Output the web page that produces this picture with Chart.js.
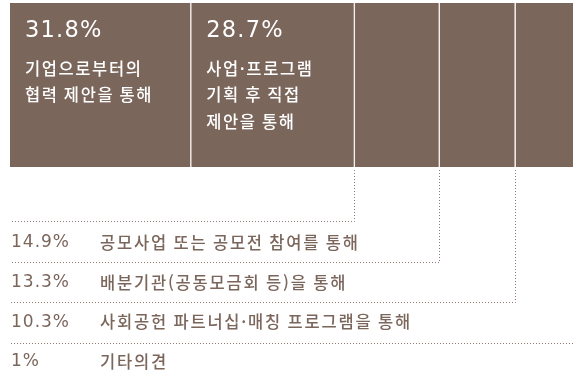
<!DOCTYPE html>
<html lang="ko">
<head>
  <meta charset="UTF-8">
  <title>협력 경로</title>
  <script src="https://cdn.jsdelivr.net/npm/chart.js"></script>
  <style>
    html, body { margin: 0; padding: 0; background: #fff; overflow: hidden; }
    .wrap { width: 583px; height: 379px; }
  </style>
</head>
<body>
  <div class="wrap"><canvas id="routeChart"></canvas></div>
  <script>
    // share of each route (%)
    const shares = [31.8, 28.7, 14.9, 13.3, 10.3, 1];
    const routeLabels = [
      ['기업으로부터의', '협력 제안을 통해'],
      ['사업·프로그램', '기획 후 직접', '제안을 통해'],
      ['공모사업 또는 공모전 참여를 통해'],
      ['배분기관(공동모금회 등)을 통해'],
      ['사회공헌 파트너십·매칭 프로그램을 통해'],
      ['기타의견']
    ];
    const insideCount = 2; // first two routes are labelled inside the bar

    const brown = '#7b665c';
    const fontKr = '"Noto Sans CJK KR", "Noto Sans", sans-serif';
    const fontNum = '"DejaVu Sans", sans-serif';

    const datasets = shares.map((v, i) => ({
      label: routeLabels[i].join(' '),
      data: [v],
      backgroundColor: brown,
      borderColor: '#f2eeec',
      borderWidth: { left: 0, top: 0, bottom: 0, right: 1.5 },
      borderSkipped: false,
      barPercentage: 1,
      categoryPercentage: 1
    }));

    // labels inside the bar and the dotted leader rows below it
    const labelPlugin = {
      id: 'routeLabels',
      afterDatasetsDraw(chart) {
        const ctx = chart.ctx;
        const xs = chart.scales.x;
        const area = chart.chartArea;
        ctx.save();

        let start = 0;
        const starts = shares.map(v => { const s = start; start += v; return s; });

        // inside labels
        ctx.textBaseline = 'middle';
        ctx.textAlign = 'left';
        for (let i = 0; i < insideCount; i++) {
          const x = xs.getPixelForValue(starts[i]) + 15;
          ctx.fillStyle = '#ffffff';
          ctx.font = '22.5px ' + fontNum;
          ctx.letterSpacing = '1.2px';
          ctx.fillText(shares[i] + '%', x, area.top + 28);
          ctx.font = '500 16.5px ' + fontKr;
          ctx.letterSpacing = '1.6px';
          routeLabels[i].forEach((line, j) => {
            ctx.fillText(line, x, area.top + 65.5 + j * 26.5);
          });
        }

        // rows under the bar
        const rowTop = 221;
        const rowGap = 40.5;
        ctx.strokeStyle = '#8d7a71';
        ctx.lineWidth = 1;
        ctx.setLineDash([1, 2]);
        for (let i = insideCount; i < shares.length; i++) {
          const r = i - insideCount;
          const lineY = Math.round(rowTop + r * rowGap) + 0.5;
          const lx = Math.round(xs.getPixelForValue(starts[i])) - 0.5;
          ctx.beginPath();
          ctx.moveTo(lx, area.bottom + 3);
          ctx.lineTo(lx, lineY);
          ctx.lineTo(area.left, lineY);
          ctx.stroke();

          const cy = rowTop + 21.5 + r * 39.8;
          ctx.fillStyle = brown;
          ctx.font = '17px ' + fontNum;
          ctx.letterSpacing = '1px';
          ctx.fillText(shares[i] + '%', area.left + 1, cy);
          ctx.font = '500 16.5px ' + fontKr;
          ctx.letterSpacing = '1.8px';
          ctx.fillText(routeLabels[i][0], 100, cy);
        }
        ctx.restore();
      }
    };

    new Chart(document.getElementById('routeChart'), {
      type: 'bar',
      data: { labels: ['경로'], datasets: datasets },
      options: {
        indexAxis: 'y',
        responsive: true,
        maintainAspectRatio: false,
        animation: false,
        layout: { padding: { left: 10, right: 3, top: 3, bottom: 212 } },
        scales: {
          x: { stacked: true, min: 0, max: 100, display: false },
          y: { stacked: true, display: false }
        },
        plugins: {
          legend: { display: false },
          tooltip: { enabled: false }
        }
      },
      plugins: [labelPlugin]
    });
  </script>
</body>
</html>
